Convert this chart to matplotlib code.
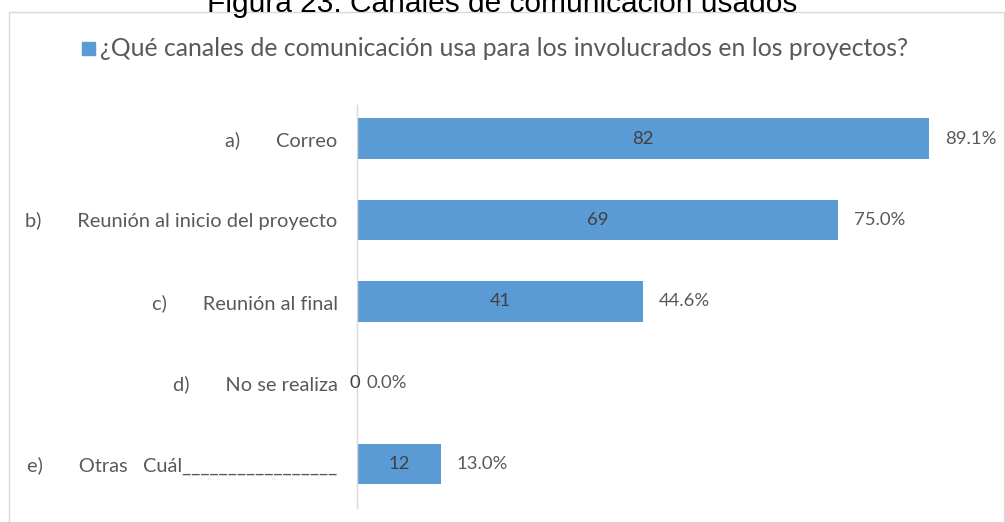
import matplotlib

matplotlib.use("Agg")
import matplotlib.pyplot as plt
from matplotlib.patches import Rectangle

# Survey results: communication channels used with project stakeholders
categories = [
    "a)       Correo",
    "b)       Reunión al inicio del proyecto",
    "c)       Reunión al final",
    "d)       No se realiza",
    "e)       Otras   Cuál_________________",
]
counts = [82, 69, 41, 0, 12]
percents = [89.1, 75.0, 44.6, 0.0, 13.0]

TITLE = "Figura 23: Canales de comunicación usados"
SERIES = "¿Qué canales de comunicación usa para los involucrados en los proyectos?"

BAR_COLOR = "#5B9BD5"
TEXT_GREY = "#595959"
VALUE_GREY = "#404040"
LINE_GREY = "#D9D9D9"
FONT = ["Lato", "DejaVu Sans"]

W, H = 1005, 522
fig = plt.figure(figsize=(W / 100, H / 100), dpi=100)
fig.patch.set_facecolor("white")


def px(x, y):
    """pixel position (from top-left) -> figure fraction"""
    return x / W, 1 - y / H


# chart frame
frame = Rectangle(px(9, 530), (1004 - 9) / W, (530 - 12) / H,
                  transform=fig.transFigure, facecolor="none",
                  edgecolor=LINE_GREY, lw=1.0)
fig.patches.append(frame)

# caption above the chart (partly above the top edge)
fig.text(*px(502, 12), TITLE, ha="center", va="baseline",
         fontsize=21.5, family=["Liberation Sans", "DejaVu Sans"], color="black")

# plot area
x0, x1, y0, y1 = 357, 1000, 105, 508
unit = (929 - 357) / 82
ax = fig.add_axes([x0 / W, 1 - y1 / H, (x1 - x0) / W, (y1 - y0) / H])
ax.set_xlim(0, (x1 - x0) / unit)
spacing = (464 - 138.5) / 4
ax.set_ylim(4 + (y1 - 464) / spacing, -(138.5 - y0) / spacing)

ypos = list(range(len(categories)))
ax.barh(ypos, counts, height=0.5, color=BAR_COLOR)

for sp in ["top", "right", "bottom"]:
    ax.spines[sp].set_visible(False)
ax.spines["left"].set_color(LINE_GREY)
ax.spines["left"].set_linewidth(1.0)
ax.set_xticks([])
ax.set_yticks(ypos)
ax.set_yticklabels(categories, fontsize=14.4, color=TEXT_GREY, family=FONT)
ax.tick_params(axis="y", length=0, pad=14)

# value inside the bar and percentage after it
for y, c, p in zip(ypos, counts, percents):
    shift = 0 if c > 0 else -2      # empty bar: nudge the count off the axis
    gap = 16 if c > 0 else 9
    ax.annotate(f"{c}", (c / 2, y), xytext=(shift * 0.72, 0),
                textcoords="offset points", ha="center", va="center",
                fontsize=13.3, color=VALUE_GREY, family=FONT)
    ax.annotate(f"{p:.1f}%", (c, y), xytext=(gap * 0.72, 0),
                textcoords="offset points", ha="left", va="center",
                fontsize=13.3, color=TEXT_GREY, family=FONT)

# series legend
fig.patches.append(Rectangle(px(82, 55), 13 / W, 13 / H,
                             transform=fig.transFigure, color=BAR_COLOR))
fig.text(*px(100, 48), SERIES, ha="left", va="center", fontsize=17.8,
         color=TEXT_GREY, family=FONT)

fig.savefig("out.png", dpi=100, facecolor="white")
